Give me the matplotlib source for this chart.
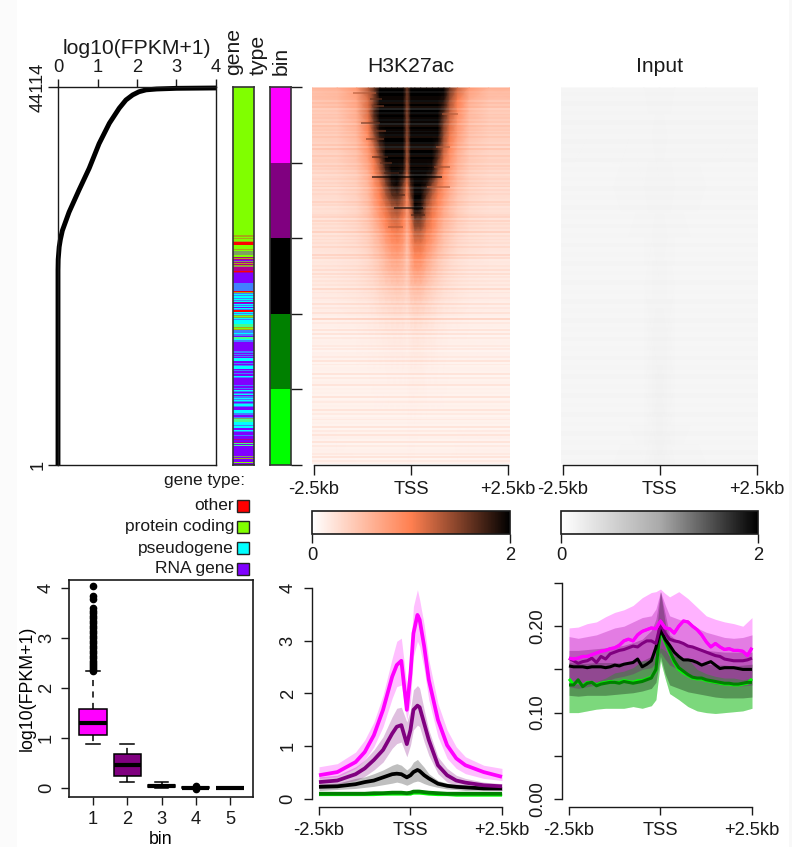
import numpy as np
import matplotlib
matplotlib.use("Agg")
import matplotlib.pyplot as plt
from matplotlib.colors import LinearSegmentedColormap, ListedColormap, Normalize, to_rgb
from matplotlib.cm import ScalarMappable
from matplotlib.patches import Rectangle

plt.rcParams['font.family'] = ['Liberation Sans', 'DejaVu Sans']
plt.rcParams['font.size'] = 13.2
plt.rcParams['axes.linewidth'] = 1.0
plt.rcParams['axes.edgecolor'] = '#1a1a1a'
plt.rcParams['xtick.color'] = '#1a1a1a'
plt.rcParams['ytick.color'] = '#1a1a1a'
plt.rcParams['text.color'] = '#1a1a1a'

# ---------- data ----------
expr_values = [0, 0, .005, .03, .06, .11, .28, .53, .79, 1.04, 1.30, 1.55, 1.72, 1.89, 2.05, 2.23, 2.5, 3, 4]
expr_ranks = [1, 22760, 24000, 25450, 26300, 27350, 29510, 32070, 34630, 37500, 39880, 41640, 42600, 43190, 43560, 43780, 43880, 43960, 44000]

# one character per screen row, top to bottom
gene_stripes = ("OOGOGGORRRGGGGOGKKKKGGMOMVKMOMOKMMMMRMVVVVVVVVVVBBBBBBBBROBCBCCBCBC"
                "MVCBCVCBRRCBCKGKCBCCCCTTTOGOBBBCBBVTTCBBVVVVVVVV"
                "VBBVBVBVCCCVVBVBCCCVBVVBVVCBVVVVVVVBVVBVCBVBCVBBCBCBVBCCBVVVCCCB"
                "BVVBKTTTCCCBCCVVCBVVVBVVVMVVMTVTVVVVVVVVVVKVOVVVGVM")
gene_colors = {'G': '#80ff00', 'R': '#ff0000', 'O': '#a8a818', 'K': '#80a060', 'M': '#b00090',
               'V': '#8000ff', 'B': '#4080ff', 'C': '#00ffff', 'T': '#40ff90'}
bin_counts = [8823, 8823, 8823, 8823, 8822]
bin_colors = ['#ff00ff', '#800080', '#000000', '#008000', '#00ff00']

heat_cols = [-2.55, -1.9, -1.4, -1.1, -.95, -.8, -.65, -.5, -.35, -.2, -.1, 0, .1, .25, .4, .55, .7, .85, 1.0, 1.2, 1.5, 2.0, 2.55]
heat_rows = [1, 13, 25, 37, 49, 61, 73, 85, 97, 109, 121, 133, 145, 157, 169, 181, 198, 218, 243, 283, 333, 378]
heat_vals = [
 [.55,.6,.8,1.3,1.6,2.2,2.5,2.5,2.5,2.5,1.6,2.5,2.5,2.5,2.5,2.5,2.5,2.2,1.6,1.2,.8,.6,.6],
 [.45,.5,.7,1.15,1.5,2.1,2.5,2.5,2.5,2.4,1.55,2.4,2.5,2.5,2.5,2.5,2.4,1.9,1.4,1.0,.6,.45,.45],
 [.42,.45,.65,1.15,1.7,2.1,2.5,2.5,2.5,2.4,1.5,2.4,2.5,2.5,2.5,2.5,2.3,1.7,1.25,.9,.55,.42,.42],
 [.4,.42,.6,1.05,1.6,2.0,2.5,2.5,2.5,2.3,1.5,2.3,2.5,2.5,2.5,2.5,2.1,1.5,1.15,.8,.5,.4,.4],
 [.38,.4,.55,.95,1.4,1.9,2.4,2.5,2.5,2.3,1.45,2.3,2.5,2.5,2.5,2.4,2.0,1.4,1.05,.75,.47,.38,.38],
 [.35,.38,.5,.85,1.2,1.7,2.2,2.5,2.5,2.2,1.4,2.2,2.5,2.5,2.5,2.3,1.8,1.25,.95,.65,.42,.35,.35],
 [.33,.35,.47,.75,1.05,1.45,2.0,2.4,2.5,2.1,1.35,2.1,2.5,2.5,2.4,2.1,1.6,1.1,.85,.6,.4,.33,.33],
 [.3,.33,.42,.65,.95,1.25,1.7,2.2,2.3,1.9,1.25,2.0,2.5,2.5,2.3,1.9,1.35,1.0,.78,.55,.38,.32,.32],
 [.28,.3,.38,.58,.85,1.1,1.5,1.9,2.0,1.6,1.1,1.8,2.4,2.4,1.9,1.5,1.15,.9,.7,.5,.36,.3,.3],
 [.27,.28,.36,.54,.78,1.0,1.3,1.6,1.7,1.4,.95,1.6,2.3,2.1,1.6,1.25,1.0,.8,.62,.45,.33,.28,.28],
 [.25,.27,.34,.5,.7,.9,1.1,1.3,1.4,1.2,.85,1.3,2.0,1.9,1.35,1.1,.9,.7,.55,.42,.31,.26,.26],
 [.24,.25,.32,.45,.6,.78,.98,1.15,1.2,1.0,.72,1.1,1.6,1.6,1.2,1.0,.78,.6,.5,.38,.29,.25,.25],
 [.23,.24,.3,.4,.52,.65,.85,1.0,1.05,.9,.62,.95,1.3,1.3,1.05,.88,.68,.52,.44,.34,.27,.24,.24],
 [.22,.23,.28,.36,.46,.56,.72,.85,.9,.78,.52,.85,1.1,1.1,.9,.75,.58,.46,.38,.3,.25,.22,.22],
 [.2,.22,.25,.32,.4,.48,.6,.72,.75,.65,.45,.72,.95,.95,.75,.62,.48,.4,.33,.27,.23,.2,.2],
 [.18,.2,.23,.29,.35,.42,.52,.6,.62,.55,.42,.65,.8,.78,.62,.5,.4,.33,.28,.24,.2,.18,.18],
 [.17,.18,.21,.25,.28,.33,.38,.42,.45,.42,.35,.5,.55,.55,.45,.38,.32,.27,.24,.21,.18,.17,.17],
 [.15,.16,.18,.2,.22,.25,.28,.3,.32,.3,.27,.35,.38,.36,.32,.28,.24,.21,.2,.18,.16,.15,.15],
 [.13,.13,.14,.15,.16,.17,.18,.19,.2,.19,.17,.2,.22,.21,.19,.18,.16,.15,.14,.14,.13,.13,.13],
 [.12,.12,.12,.12,.13,.13,.13,.14,.14,.14,.13,.15,.15,.15,.14,.14,.13,.13,.12,.12,.12,.12,.12],
 [.12,.12,.12,.12,.12,.12,.12,.12,.12,.12,.12,.13,.13,.12,.12,.12,.12,.12,.12,.12,.12,.12,.12],
 [.13,.13,.12,.12,.12,.12,.12,.12,.12,.12,.12,.13,.12,.12,.12,.12,.12,.12,.12,.13,.13,.13,.13],
]
# row-to-row striping, 0-9, 5 = neutral, one digit per 2 screen rows
heat_stripes = ("6545566475735465646375646475547385547566475646356465736465"
                "5475635456737465648364656475548573546574736465638465"
                "4653736547429264537371645462615463726354371635472"
                "5352714635373614635271637452716354627163")
# dark streaks at the edge of the core: row, first kb, last kb, value
streak_rows = [6, 12, 19, 27, 36, 44, 52, 60, 70, 76, 80, 86, 90, 100, 108, 121, 128, 140]
streak_x0 = [-1.5, -1.05, -1.0, .8, -1.3, -.9, -1.15, .65, -1.0, -.8, .6, -.7, -1.0, .4, -.5, -.45, .0, -.6]
streak_x1 = [-.9, -.75, -.7, 1.2, -.8, -.65, -.7, 1.0, -.6, -.5, 1.0, -.3, .8, 1.0, -.15, .3, .35, -.2]
streak_val = [1.3, 1.6, 1.5, 1.3, 1.6, 1.5, 1.5, 1.3, 1.7, 1.6, 1.4, 1.7, 2.0, 1.3, 1.7, 2.2, 1.7, 1.3]

input_cols = [-2.55, -1.2, -.4, 0, .4, 1.2, 2.55]
input_rows = [1, 100, 200, 300, 378]
input_vals = [
 [.12, .12, .12, .13, .12, .12, .12],
 [.115, .115, .12, .135, .12, .115, .115],
 [.11, .11, .115, .14, .115, .11, .11],
 [.11, .11, .115, .15, .115, .11, .11],
 [.115, .115, .12, .15, .12, .115, .115],
]
input_stripes = ("5647564756475647564647564746575647564756475647564756"
                 "4756475647564756475647564756")

box_labels = ['1', '2', '3', '4', '5']
box_whislo = [.88, .12, .01, 0, 0]
box_q1 = [1.07, .25, .02, 0, 0]
box_med = [1.30, .46, .04, 0, 0]
box_q3 = [1.59, .68, .07, .02, .005]
box_whishi = [2.35, .88, .12, .03, .01]
box_colors = bin_colors
box_fliers = [
 [2.35, 2.38, 2.42, 2.46, 2.5, 2.55, 2.6, 2.65, 2.7, 2.75, 2.8, 2.85, 2.9, 2.95, 3.0, 3.05, 3.1, 3.15,
  3.2, 3.25, 3.3, 3.35, 3.4, 3.45, 3.5, 3.55, 3.6, 3.78, 3.85, 4.05],
 [], [], [.04, -.01], []]

h3_x = [-2.5, -2, -1.5, -1.25, -1, -.75, -.5, -.375, -.25, -.1, 0, .08, .19, .25, .375, .5, .75, 1, 1.25, 1.5, 2, 2.5]
h3_mag = [.45, .51, .70, .89, 1.21, 1.69, 2.32, 2.54, 2.62, 1.69, 2.38, 3.14, 3.49, 3.4, 2.89, 2.26, 1.5, 1.02, .77, .64, .51, .42]
h3_mag_hi = [.61, .67, .89, 1.12, 1.46, 1.97, 2.67, 2.99, 3.05, 2.16, 2.76, 3.65, 3.97, 3.78, 3.3, 2.64, 1.81, 1.31, .99, .8, .64, .58]
h3_mag_lo = [.39, .42, .58, .74, .99, 1.37, 1.91, 2.13, 2.16, 1.5, 1.84, 2.7, 2.99, 2.89, 2.45, 1.88, 1.18, .77, .58, .48, .39, .35]
h3_pur = [.32, .35, .47, .58, .74, .93, 1.24, 1.37, 1.40, 1.04, 1.31, 1.69, 1.77, 1.74, 1.43, 1.12, .64, .45, .35, .31, .26, .24]
h3_pur_hi = [.42, .45, .61, .74, .93, 1.18, 1.56, 1.72, 1.74, 1.46, 1.69, 2.07, 2.15, 2.1, 1.69, 1.31, .8, .58, .45, .39, .32, .29]
h3_pur_lo = [.26, .28, .35, .43, .55, .70, .96, 1.05, 1.08, .8, 1.02, 1.31, 1.40, 1.37, 1.08, .83, .48, .32, .26, .22, .18, .16]
h3_blk = [.23, .24, .28, .32, .35, .41, .47, .48, .47, .41, .45, .51, .55, .53, .45, .39, .29, .25, .23, .22, .20, .20]
h3_blk_hi = [.29, .30, .39, .42, .48, .55, .64, .67, .64, .55, .61, .7, .75, .7, .6, .48, .35, .3, .28, .26, .24, .24]
h3_blk_lo = [.16, .18, .2, .22, .24, .27, .3, .32, .3, .26, .29, .32, .34, .33, .29, .26, .22, .19, .18, .16, .16, .16]
h3_grn = [.10, .10, .10, .10, .11, .11, .12, .12, .12, .11, .12, .14, .14, .14, .13, .12, .11, .10, .10, .10, .10, .10]
h3_grn_hi = [.12, .12, .13, .13, .14, .14, .15, .16, .15, .14, .16, .18, .19, .18, .16, .15, .13, .12, .12, .12, .12, .13]
h3_grn_lo = [.08, .08, .08, .08, .08, .08, .09, .09, .09, .08, .09, .10, .10, .10, .09, .09, .08, .08, .07, .07, .07, .07]
h3_lim = [.09, .09, .09, .09, .09, .10, .10, .10, .10, .10, .10, .12, .12, .12, .11, .10, .09, .09, .08, .08, .08, .08]
h3_lim_hi = [.10, .10, .11, .11, .11, .12, .12, .13, .13, .12, .13, .15, .16, .15, .14, .13, .11, .10, .10, .10, .10, .10]
h3_lim_lo = [.07, .07, .07, .07, .07, .07, .08, .08, .08, .07, .08, .09, .09, .09, .08, .08, .07, .07, .06, .06, .06, .06]

in_x = [-2.5, -2.375, -2.25, -2.125, -2, -1.875, -1.75, -1.625, -1.5, -1.375, -1.25, -1.125, -1, -.875, -.75, -.625, -.5, -.375, -.25, -.125,
        0, .125, .25, .375, .5, .625, .75, .875, 1, 1.125, 1.25, 1.375, 1.5, 1.625, 1.75, 1.875, 2, 2.125, 2.25, 2.375, 2.5]
in_mag = [.163, .162, .163, .165, .165, .167, .169, .171, .172, .174, .175, .178, .183, .185, .183, .190, .194, .196, .198, .197,
          .206, .198, .197, .192, .200, .206, .205, .200, .196, .190, .182, .176, .180, .176, .173, .174, .172, .172, .171, .166, .175]
in_pur = [.163, .160, .157, .159, .160, .163, .158, .165, .162, .168, .170, .172, .173, .175, .177, .176, .180, .183, .183, .180,
          .202, .192, .185, .183, .182, .180, .177, .176, .174, .172, .170, .168, .166, .165, .162, .161, .160, .160, .160, .161, .163]
in_blk = [.154, .153, .153, .153, .152, .153, .153, .153, .152, .153, .155, .154, .156, .157, .158, .162, .153, .156, .160, .175,
          .196, .185, .178, .170, .165, .161, .161, .160, .158, .155, .157, .159, .155, .151, .152, .152, .152, .151, .150, .150, .150]
in_grn = [.132, .132, .138, .130, .134, .135, .131, .133, .134, .135, .135, .134, .136, .135, .134, .135, .136, .138, .140, .150,
          .198, .184, .172, .160, .152, .148, .144, .141, .140, .140, .138, .137, .136, .135, .134, .134, .133, .133, .134, .135, .135]
in_lim = [.139, .133, .136, .131, .135, .135, .132, .134, .135, .136, .135, .135, .137, .136, .135, .137, .137, .139, .141, .149,
          .195, .182, .170, .158, .150, .146, .143, .140, .139, .139, .137, .136, .135, .134, .133, .133, .132, .132, .133, .134, .139]
band_x = [-2.5, -2.25, -2, -1.75, -1.5, -1.25, -1, -.75, -.5, -.25, -.125, 0, .125, .25, .5, .75, 1, 1.25, 1.5, 1.75, 2, 2.25, 2.5]
in_mag_hi = [.198, .199, .203, .205, .211, .216, .219, .224, .233, .239, .240, .243, .238, .234, .240, .232, .222, .212, .208, .205, .203, .200, .210]
in_mag_lo = [.133, .133, .134, .136, .140, .146, .148, .152, .160, .160, .166, .175, .172, .165, .165, .162, .150, .145, .142, .140, .140, .138, .140]
in_pur_hi = [.188, .186, .188, .190, .194, .198, .200, .205, .210, .212, .220, .240, .225, .212, .208, .205, .198, .193, .190, .187, .186, .187, .190]
in_pur_lo = [.130, .128, .130, .132, .136, .140, .142, .145, .150, .152, .158, .170, .162, .155, .150, .145, .140, .136, .133, .132, .131, .131, .132]
in_blk_hi = [.172, .172, .173, .174, .175, .176, .178, .181, .185, .195, .208, .240, .215, .190, .182, .178, .175, .172, .171, .170, .170, .170, .170]
in_blk_lo = [.120, .119, .120, .120, .120, .121, .122, .123, .125, .128, .135, .165, .145, .132, .128, .124, .122, .120, .118, .117, .117, .117, .118]
in_grn_hi = [.158, .157, .157, .158, .158, .158, .158, .159, .160, .165, .185, .240, .205, .175, .165, .160, .157, .156, .155, .155, .154, .155, .156]
in_grn_lo = [.100, .100, .102, .104, .105, .105, .105, .107, .105, .108, .115, .160, .140, .122, .115, .107, .102, .100, .099, .100, .101, .102, .105]

legend_labels = ['other', 'protein coding', 'pseudogene', 'RNA gene']
legend_colors = ['#ff0000', '#80ff00', '#00ffff', '#8000ff']
x_labels = ['-2.5kb', 'TSS', '+2.5kb']
x_ticks = [-2.5, 0, 2.5]

# ---------- layout helpers ----------
W, H = 792, 847
fig = plt.figure(figsize=(W / 100, H / 100), dpi=100, facecolor='white')


def px_axes(l, t, r, b, **kw):
    return fig.add_axes([l / W, 1 - b / H, (r - l) / W, (b - t) / H], **kw)


def rotate_ylabels(ax):
    for t in ax.get_yticklabels():
        t.set_rotation(90)
        t.set_va('center')


bg = px_axes(0, 0, W, H, zorder=-5)
bg.set_xlim(0, W)
bg.set_ylim(H, 0)
bg.axis('off')
bg.add_patch(Rectangle((0, 0), 17, H, fc='#fbfbfb', ec='none'))
bg.add_patch(Rectangle((789, 0), 3, H, fc='#f8f8f8', ec='none'))

# ---------- expression rank curve ----------
ax = px_axes(58, 87, 216, 465)
ax.plot(expr_values, expr_ranks, color='black', lw=3.5, solid_capstyle='butt', clip_on=False)
ax.set_xlim(0, 4)
ax.set_ylim(1, 44114)
ax.xaxis.tick_top()
ax.set_xticks([0, 1, 2, 3, 4])
ax.set_yticks([1, 44114], ['1', '44114'])
ax.tick_params(axis='x', length=6, width=1.0, pad=2)
ax.tick_params(axis='y', length=7.5, width=1.0, pad=1)
rotate_ylabels(ax)
fig.text(137 / W, 1 - 48 / H, 'log10(FPKM+1)', fontsize=15.2, ha='center', va='center')

# ---------- gene type and bin bars ----------
ax = px_axes(233, 87, 254, 465)
ax.imshow(ListedColormap(list(gene_colors.values()))(
    np.array([[list(gene_colors).index(c)] for c in gene_stripes]) / (len(gene_colors) - 1)),
    aspect='auto', extent=(0, 1, 230, 0), interpolation='bilinear', zorder=1)
ax.set_xlim(0, 1)
ax.set_xticks([])
ax.set_yticks([])
ax.spines[:].set_edgecolor('#333333')
ax.spines[:].set_linewidth(1.2)
# protein coding block above the striped section
ax.set_ylim(230, -148)
ax.axhspan(-148, 0, color=gene_colors['G'], lw=0)

ax = px_axes(270, 87, 291, 465)
bottom = 0
edges = [0]
for n, c in zip(bin_counts, bin_colors):
    ax.bar(0, n, bottom=bottom, width=1, color=c, lw=0)
    bottom += n
    edges.append(bottom)
ax.set_xlim(-.5, .5)
ax.set_ylim(bottom, 0)
ax.set_xticks([])
ax.yaxis.tick_right()
ax.set_yticks(edges, [''] * len(edges))
ax.tick_params(axis='y', length=8, width=1.0)
ax.spines[:].set_edgecolor('#333333')
ax.spines[:].set_linewidth(1.2)

for x, s in [(234, 'gene'), (258, 'type'), (281, 'bin')]:
    fig.text(x / W, 1 - 75 / H, s, rotation=90, ha='center', va='bottom', fontsize=15.2)

# ---------- heat maps ----------
heat_cmap = LinearSegmentedColormap.from_list('h3', ['#ffffff', '#ff7f50', '#000000'])
grey_cmap = LinearSegmentedColormap.from_list('inp', ['#ffffff', '#aaaaaa', '#000000'])
norm = Normalize(0, 2)


def stripe_rgba(digits, dark, strength_dark, strength_light):
    rgba = np.zeros((len(digits), 1, 4))
    for i, ch in enumerate(digits):
        d = int(ch)
        if d >= 5:
            rgba[i, 0, :3] = to_rgb(dark)
            rgba[i, 0, 3] = (d - 5) * strength_dark
        else:
            rgba[i, 0, :3] = 1
            rgba[i, 0, 3] = (5 - d) * strength_light
    return rgba


def heatmap(l, r, cols, rows, vals, cmap, title, title_x, digits, dark, sd, sl):
    a = px_axes(l, 87, r, 464)
    xr = (r - l) / 2 / 97 * 2.5
    a.pcolormesh(cols, rows, np.array(vals), shading='gouraud', cmap=cmap, norm=norm, rasterized=True)
    a.imshow(stripe_rgba(digits, dark, sd, sl), aspect='auto', extent=(-xr, xr, 378, 0),
             interpolation='nearest', zorder=2)
    a.set_xlim(-xr, xr)
    a.set_ylim(378, 0)
    a.set_yticks([])
    a.set_xticks(x_ticks, x_labels)
    a.tick_params(axis='x', length=7.2, width=1.0, pad=4)
    for s in ('top', 'left', 'right'):
        a.spines[s].set_visible(False)
    a.spines['bottom'].set_bounds(-2.5, 2.5)
    a.spines['bottom'].set_position(('outward', 1))
    fig.text(title_x / W, 1 - 66 / H, title, fontsize=15.2, ha='center', va='center')
    return a, xr


ax, _ = heatmap(312, 510, heat_cols, heat_rows, heat_vals, heat_cmap, 'H3K27ac', 411,
                heat_stripes, '#ff7f50', .05, .07)
for yy, x0, x1, v in zip(streak_rows, streak_x0, streak_x1, streak_val):
    ax.hlines(yy, x0, x1, color=heat_cmap(norm(v)), lw=1.3, alpha=.6, zorder=3)
heatmap(561, 758, input_cols, input_rows, input_vals, grey_cmap, 'Input', 660,
        input_stripes, '#c0c0c0', .012, .02)

for l, r, cm in [(312, 510, heat_cmap), (561, 758, grey_cmap)]:
    cax = px_axes(l, 511, r, 534)
    cb = fig.colorbar(ScalarMappable(norm=norm, cmap=cm), cax=cax, orientation='horizontal', ticks=[0, 2])
    cb.outline.set_linewidth(1.2)
    cb.outline.set_edgecolor('#1a1a1a')
    cb.ax.tick_params(length=6.5, width=1.0, pad=3)

# ---------- legend ----------
lg = px_axes(0, 0, W, H, zorder=5)
lg.set_xlim(0, W)
lg.set_ylim(H, 0)
lg.axis('off')
lg.patch.set_alpha(0)
lg.text(245, 481, 'gene type:', ha='right', va='center', fontsize=12.5)
for y, s, c in zip([506, 527, 548, 569], legend_labels, legend_colors):
    lg.text(234, y, s, ha='right', va='center', fontsize=12.5)
    lg.add_patch(Rectangle((236.5, y - 6), 12.5, 12.5, fc=c, ec='#222222', lw=1.0))

# ---------- box plot ----------
ax = px_axes(69, 580, 253, 797)
stats = [dict(label=box_labels[i], whislo=box_whislo[i], q1=box_q1[i], med=box_med[i], q3=box_q3[i],
              whishi=box_whishi[i], fliers=box_fliers[i]) for i in range(5)]
bp = ax.bxp(stats, positions=[1, 2, 3, 4, 5], widths=.8, patch_artist=True, showfliers=True,
            boxprops=dict(edgecolor='black', linewidth=1.1),
            medianprops=dict(color='black', linewidth=3.0, solid_capstyle='butt'),
            whiskerprops=dict(color='black', linewidth=1.1, linestyle=(0, (4, 3.5))),
            capprops=dict(color='black', linewidth=1.1),
            flierprops=dict(marker='o', markerfacecolor='black', markeredgecolor='black', markersize=4.5),
            capwidths=.4)
for patch, c in zip(bp['boxes'], box_colors):
    patch.set_facecolor(c)
ax.set_xlim(.3, 5.67)
ax.set_ylim(-.18, 4.16)
ax.set_yticks([0, 1, 2, 3, 4])
ax.set_xlabel('bin', labelpad=2.5, fontsize=12.8)
ax.set_ylabel('log10(FPKM+1)', labelpad=2, fontsize=12.8)
ax.tick_params(length=6, width=1.0, pad=4)
rotate_ylabels(ax)
ax.spines[:].set_linewidth(1.2)


# ---------- profile plots ----------
def style_profile(a):
    for s in ('top', 'right'):
        a.spines[s].set_visible(False)
    a.spines['bottom'].set_bounds(-2.5, 2.5)
    a.set_xticks(x_ticks, x_labels)
    a.tick_params(length=6, width=1.0, pad=5)
    rotate_ylabels(a)


ax = px_axes(312, 583, 510, 807)
h3_series = [
    ('#00ff00', h3_lim, h3_lim_lo, h3_lim_hi),
    ('#008000', h3_grn, h3_grn_lo, h3_grn_hi),
    ('#000000', h3_blk, h3_blk_lo, h3_blk_hi),
    ('#800080', h3_pur, h3_pur_lo, h3_pur_hi),
    ('#ff00ff', h3_mag, h3_mag_lo, h3_mag_hi),
]
for c, m, lo, hi in h3_series:
    ax.fill_between(h3_x, lo, hi, color=c, alpha=.25, lw=0)
    ax.plot(h3_x, m, color=c, lw=2.7, solid_capstyle='butt')
ax.set_xlim(-2.691, 2.719)
ax.set_ylim(-.152, 4.095)
ax.set_yticks([0, 1, 2, 3, 4])
ax.spines['left'].set_bounds(0, 4)
style_profile(ax)

ax = px_axes(562, 578, 760, 807)
in_series = [
    ('#00ff00', in_lim, in_grn_lo, in_grn_hi),
    ('#008000', in_grn, in_grn_lo, in_grn_hi),
    ('#000000', in_blk, in_blk_lo, in_blk_hi),
    ('#800080', in_pur, in_pur_lo, in_pur_hi),
    ('#ff00ff', in_mag, in_mag_lo, in_mag_hi),
]
for c, m, lo, hi in in_series:
    ax.plot(in_x, m, color=c, lw=2.2, solid_capstyle='butt')
    ax.fill_between(band_x, lo, hi, color=c, alpha=.3, lw=0)
ax.plot(in_x, in_mag, color='#ff00ff', lw=2.2, solid_capstyle='butt')
ax.set_xlim(-2.691, 2.719)
ax.set_ylim(-.00926, .2558)
ax.set_yticks([0, .05, .10, .15, .20, .25], ['0.00', '', '0.10', '', '0.20', ''])
ax.spines['left'].set_bounds(0, .25)
style_profile(ax)

fig.savefig('out.png', dpi=100, facecolor='white')
